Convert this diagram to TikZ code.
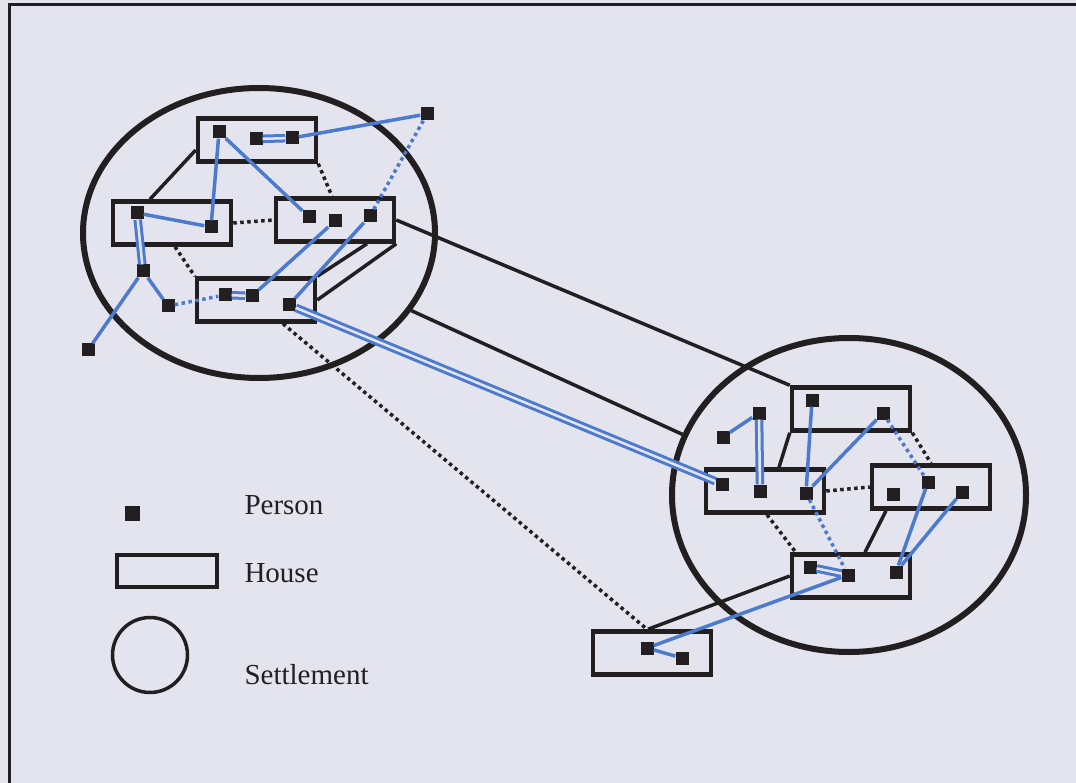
\documentclass[tikz,border=0pt]{standalone}
\usepackage{fontspec}
\setmainfont{Liberation Serif}
\usetikzlibrary{shapes.geometric}
\definecolor{paper}{RGB}{228,228,239}
\definecolor{ink}{RGB}{35,30,32}
\definecolor{kinblue}{RGB}{76,122,204}
\tikzset{
  settlement/.style={ellipse, draw=ink, line width=6pt, inner sep=0pt},
  house/.style={rectangle, draw=ink, line width=4.5pt, minimum width=118pt, minimum height=43pt, inner sep=0pt},
  person/.style={rectangle, fill=ink, minimum size=13pt, inner sep=0pt},
  tie/.style={draw=ink, line width=3.5pt},
  weaktie/.style={draw=ink, line width=3.5pt, dash pattern=on 3.5pt off 3.5pt},
  kin/.style={draw=kinblue, line width=3.5pt},
  weakkin/.style={draw=kinblue, line width=3.5pt, dash pattern=on 3.5pt off 3.5pt},
  twinkin/.style={draw=kinblue, line width=3pt, double=paper, double distance=2.5pt},
  keytext/.style={anchor=base west, text=ink, font=\fontsize{29}{34}\selectfont}
}
\begin{document}
\begin{tikzpicture}[x=1pt,y=-1pt]
\fill [paper] (0,0) rectangle (1076,783);
\useasboundingbox (0,0) rectangle (1076,783);
\draw [ink, line width=3pt] (9,783) -- (9,5) -- (1076,5);

% settlements
\node [settlement, minimum width=352pt, minimum height=290pt] (S1) at (259,233) {};
\node [settlement, minimum width=354pt, minimum height=314pt] (S2) at (849,495) {};

% houses
\node [house] (H1) at (257,140) {};
\node [house] (H2) at (172,223) {};
\node [house] (H3) at (335,220) {};
\node [house] (H4) at (256,300) {};
\node [house] (H5) at (851,409) {};
\node [house] (H6) at (765,491) {};
\node [house] (H7) at (931,487) {};
\node [house] (H8) at (851,576) {};
\node [house] (H9) at (652,653) {};

% ties between houses
\draw [tie] ([yshift=-10pt]H1.west) -- ([xshift=-22pt]H2.north);
\draw [tie] ([xshift=32pt]H3.south) -- (H4.north east);
\draw [tie] (H3.south east) -- (H4.east);
\draw [tie] (H3.east) -- (H5.north west);
\draw [tie] (S1.-27) -- (S2.160);
\draw [tie] (H5.south west) -- ([xshift=14pt]H6.north);
\draw [tie] ([xshift=-45pt]H7.south) -- ([xshift=14pt]H8.north);
\draw [tie] (H8.west) -- ([xshift=-4pt]H9.north);

\draw [weaktie] (H1.south east) -- ([xshift=-3pt]H3.north);
\draw [weaktie] (H2.east) -- (H3.west);
\draw [weaktie] ([xshift=3pt]H2.south) -- (H4.north west);
\draw [weaktie] ([xshift=27pt]H4.south) -- ([xshift=-5pt]H9.north);
\draw [weaktie] (H5.south east) -- (H7.north);
\draw [weaktie] (H6.east) -- (H7.west);
\draw [weaktie] ([xshift=2pt]H6.south) -- ([xshift=6pt]H8.north west);

% persons
\node [person] (a1) at (219,132) {};
\node [person] (a2) at (256,139) {};
\node [person] (a3) at (292,138) {};
\node [person] (a4) at (427,114) {};
\node [person] (b1) at (137,213) {};
\node [person] (b2) at (211,227) {};
\node [person] (c1) at (309,217) {};
\node [person] (c2) at (335,221) {};
\node [person] (c3) at (370,216) {};
\node [person] (d1) at (225,295) {};
\node [person] (d2) at (252,296) {};
\node [person] (d3) at (289,305) {};
\node [person] (e1) at (143,271) {};
\node [person] (e2) at (168,306) {};
\node [person] (e3) at (88,350) {};

\node [person] (f1) at (812,400) {};
\node [person] (f2) at (883,413) {};
\node [person] (g1) at (723,437) {};
\node [person] (g2) at (759,413) {};
\node [person] (h1) at (722,484) {};
\node [person] (h2) at (760,491) {};
\node [person] (h3) at (806,493) {};
\node [person] (k1) at (893,494) {};
\node [person] (k2) at (928,482) {};
\node [person] (k3) at (962,492) {};
\node [person] (m1) at (810,567) {};
\node [person] (m2) at (848,575) {};
\node [person] (m3) at (896,572) {};
\node [person] (n1) at (647,648) {};
\node [person] (n2) at (682,658) {};

% kin links
\draw [kin] (a1) -- (b2);
\draw [kin] (b2) -- (b1);
\draw [kin] (a1) -- (c1);
\draw [twinkin] (a2) -- (a3);
\draw [kin] (a3) -- (a4);
\draw [twinkin] (b1) -- (e1);
\draw [kin] (e1) -- (e2);
\draw [kin] (e1) -- (e3);
\draw [kin] (c2) -- (d2);
\draw [kin] (c3) -- (d3);
\draw [twinkin] (d1) -- (d2);
\draw [twinkin] (d3) -- (h1);
\draw [weakkin] (e2) -- (d1);
\draw [weakkin] (c3) -- (a4);

\draw [kin] (g1) -- (g2);
\draw [twinkin] (g2) -- (h2);
\draw [kin] (f1) -- (h3);
\draw [kin] (f2) -- (h3);
\draw [kin] (k2) -- (m3);
\draw [kin] (k3) -- (m3);
\draw [twinkin] (m1) -- (m2);
\draw [kin] (m2) -- (n1);
\draw [kin] (n1) -- (n2);
\draw [weakkin] (f2) -- (k2);
\draw [weakkin] (h3) -- (m2);

% key
\node [person, minimum size=15pt] (keyperson) at (132,513) {};
\node [house, line width=3.5pt, minimum width=100pt, minimum height=32pt] (keyhouse) at (167,571) {};
\node [settlement, line width=3.5pt, minimum size=75pt] (keysettlement) at (150,655) {};
\node [keytext] (personlabel) at (241,514) {Person};
\node [keytext] (houselabel) at (241,582) {House};
\node [keytext] (settlementlabel) at (241,684) {Settlement};
\end{tikzpicture}
\end{document}
